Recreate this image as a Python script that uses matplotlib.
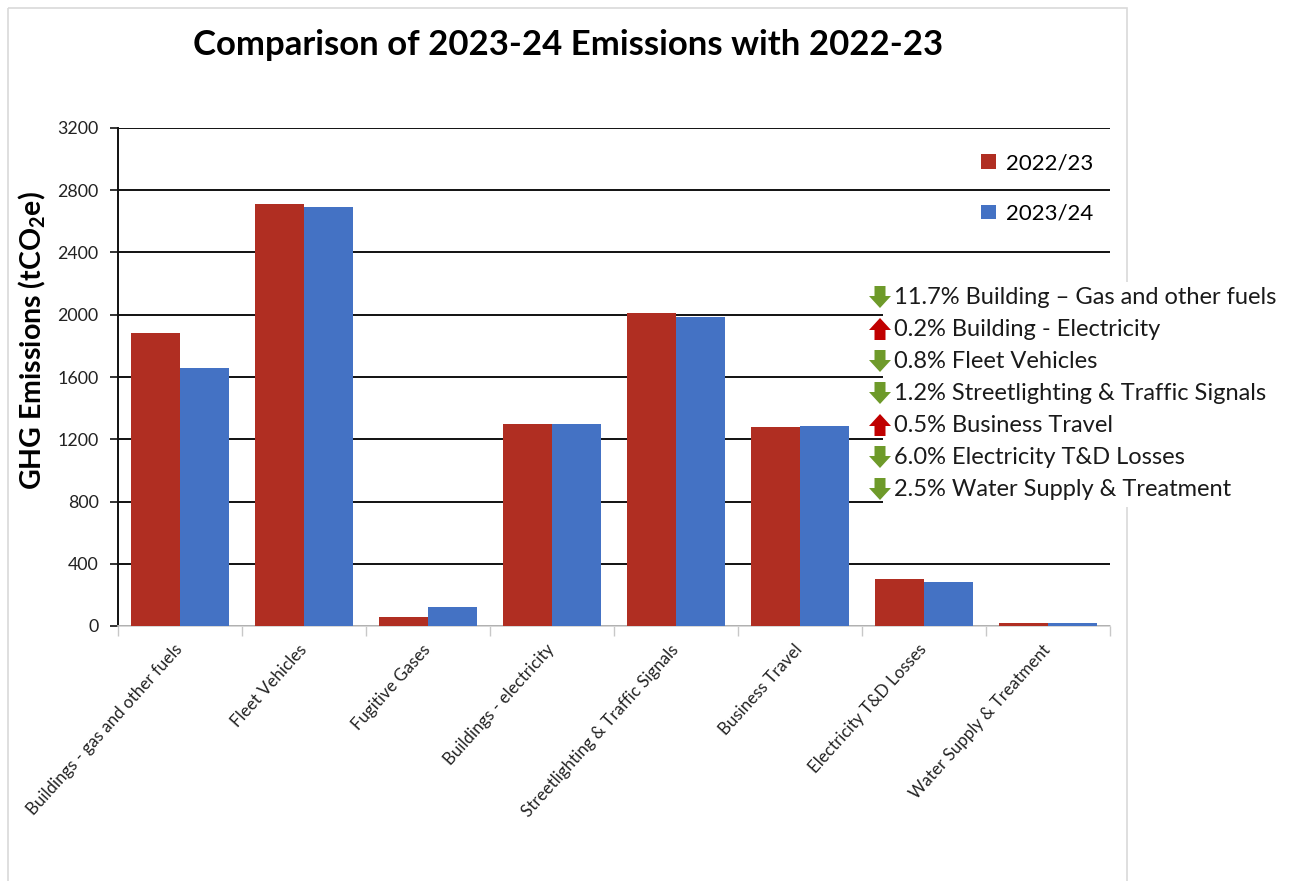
import numpy as np
import matplotlib
matplotlib.use("Agg")
import matplotlib.pyplot as plt
from matplotlib.patches import Polygon, Rectangle

plt.rcParams['font.family'] = ['Lato', 'DejaVu Sans']
plt.rcParams['mathtext.fontset'] = 'custom'
plt.rcParams['mathtext.rm'] = 'Lato'
plt.rcParams['mathtext.bf'] = 'Lato:bold'

categories = ["Buildings - gas and other fuels", "Fleet Vehicles", "Fugitive Gases",
              "Buildings - electricity", "Streetlighting & Traffic Signals",
              "Business Travel", "Electricity T&D Losses", "Water Supply & Treatment"]
series_names = ["2022/23", "2023/24"]
values_2022 = [1880, 2710, 60, 1295, 2010, 1280, 300, 20]
values_2023 = [1660, 2690, 120, 1298, 1986, 1286, 282, 19.5]
yticks = [0, 400, 800, 1200, 1600, 2000, 2400, 2800, 3200]

changes = [("down", "11.7% Building \u2013 Gas and other fuels"),
           ("up", "0.2% Building - Electricity"),
           ("down", "0.8% Fleet Vehicles"),
           ("down", "1.2% Streetlighting & Traffic Signals"),
           ("up", "0.5% Business Travel"),
           ("down", "6.0% Electricity T&D Losses"),
           ("down", "2.5% Water Supply & Treatment")]

RED = "#B02E22"
BLUE = "#4472C4"

W, H = 1295, 881
fig = plt.figure(figsize=(W / 100, H / 100), dpi=100)
ax = fig.add_axes([118 / W, 1 - 626 / H, (1110 - 118) / W, (626 - 128) / H])

x = np.arange(len(categories))
bw = 0.395
ax.bar(x - bw / 2, values_2022, bw, color=RED, label=series_names[0], zorder=3)
ax.bar(x + bw / 2, values_2023, bw, color=BLUE, label=series_names[1], zorder=3)

ax.set_xlim(-0.5, len(categories) - 0.5)
ax.set_ylim(0, 3200)
ax.set_yticks(yticks)
ax.set_yticklabels([str(v) for v in yticks], fontsize=12.8, color="#222222")
ax.yaxis.grid(True, color="#111111", linewidth=1.4, zorder=0)
ax.set_axisbelow(True)

ax.set_xticks(x)
ax.set_xticklabels(categories, rotation=48, ha='right', va='center',
                   rotation_mode='anchor', fontsize=12.2, color="#222222")
ax.tick_params(axis='x', which='major', length=0, pad=15)
ax.set_xticks(np.arange(len(categories) + 1) - 0.5, minor=True)
ax.tick_params(axis='x', which='minor', length=7, color="#c8c8c8", width=1)
ax.tick_params(axis='y', length=6, width=1.2, color="#111111", pad=8)

for s in ['top', 'right']:
    ax.spines[s].set_visible(False)
ax.spines['left'].set_color("#111111")
ax.spines['left'].set_linewidth(1.4)
ax.spines['bottom'].set_color("#d0d0d0")
ax.spines['bottom'].set_linewidth(1.2)

ax.set_ylabel(r"GHG Emissions (tCO$_\mathbf{2}$e)", fontsize=20.5, fontweight='bold')
ax.yaxis.set_label_coords(-0.0706, 0.574)

fig.text(568 / W, 1 - 45 / H, "Comparison of 2023-24 Emissions with 2022-23",
         ha='center', va='center', fontsize=25, fontweight='bold')

leg = ax.legend(loc='upper left', bbox_to_anchor=(970 / W, 1 - 142 / H),
                bbox_transform=fig.transFigure, frameon=False, fontsize=16,
                handlelength=0.65, handleheight=0.65, handletextpad=0.45,
                labelspacing=1.38, borderpad=0)

# overlay in pixel coordinates
ov = fig.add_axes([0, 0, 1, 1])
ov.set_xlim(0, W)
ov.set_ylim(H, 0)
ov.axis('off')
ov.patch.set_alpha(0)

# outer light frame
ov.add_patch(Rectangle((8, 8), 1127 - 8, H + 20, fill=False, edgecolor="#d9d9d9", linewidth=1.2))

# annotation box
ov.add_patch(Rectangle((883, 282), 405, 225, facecolor='white', edgecolor='none', zorder=2))
y0 = 297
dy = 32
for i, (d, txt) in enumerate(changes):
    cy = y0 + i * dy
    cx = 880
    s = 1 if d == "down" else -1
    pts = [(cx - 5.5, cy - 11 * s), (cx + 5.5, cy - 11 * s), (cx + 5.5, cy - 1 * s),
           (cx + 11, cy - 1 * s), (cx, cy + 11 * s), (cx - 11, cy - 1 * s), (cx - 5.5, cy - 1 * s)]
    col = "#6E9A2A" if d == "down" else "#C00000"
    ov.add_patch(Polygon(pts, closed=True, facecolor=col, edgecolor='none', zorder=3))
    ov.text(894, cy, txt, fontsize=17, va='center', ha='left', color="#1a1a1a", zorder=4)

fig.savefig("out.png", dpi=100)
